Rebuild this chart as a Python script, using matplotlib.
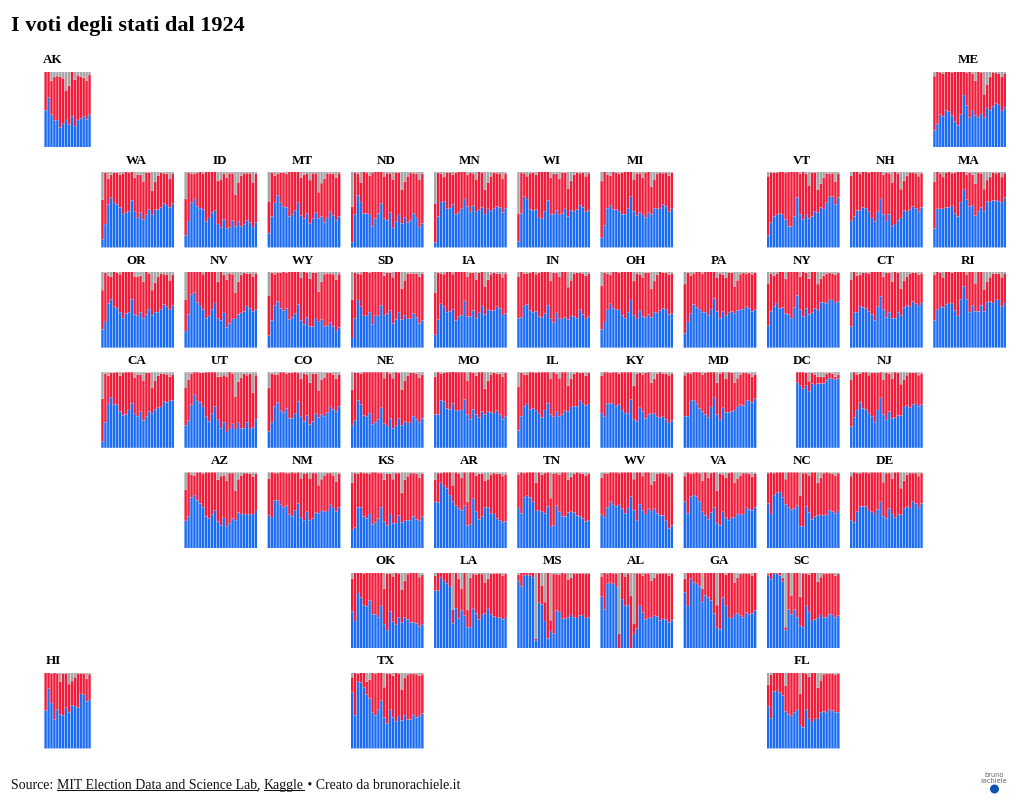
import matplotlib
matplotlib.use("Agg")
import matplotlib.pyplot as plt
from matplotlib.lines import Line2D
from matplotlib.patches import Circle

YEARS = [1924, 1928, 1932, 1936, 1940, 1944, 1948, 1952, 1956, 1960, 1964, 1968, 1972,
         1976, 1980, 1984, 1988, 1992, 1996, 2000, 2004, 2008, 2012, 2016, 2020]

# Each state's series ends in 2020; shorter series begin later.
dem = {
    "AL": [68,51,85,87,85,81,0,65,56,57,0,19,26,56,47,38,40,41,43,42,37,39,38,34,37],
    "AK": [49,66,43,35,36,26,31,36,30,41,28,36,38,41,37,43],
    "AZ": [36,42,67,70,63,59,54,42,39,44,50,35,30,40,28,33,39,37,47,45,44,45,44,45,49],
    "AR": [61,60,86,82,79,70,62,56,52,50,56,30,31,65,48,38,42,54,54,46,45,39,37,34,35],
    "CA": [8,34,58,67,57,57,48,43,44,50,59,45,42,48,36,41,48,46,51,53,54,61,60,62,63],
    "CO": [22,34,55,60,49,47,52,39,39,45,61,41,35,43,31,35,45,40,44,42,47,54,51,48,55],
    "CT": [28,46,47,55,53,52,48,44,36,54,68,50,40,47,39,39,47,42,53,56,54,61,58,55,59],
    "DE": [37,34,48,55,55,55,49,48,45,51,61,42,39,52,45,40,44,44,52,55,53,62,59,53,59],
    "DC": [86,82,78,82,75,85,83,85,85,85,89,92,91,90,92],
    "FL": [56,40,75,76,74,70,49,45,43,48,51,31,28,52,39,35,39,39,48,49,47,51,50,48,48],
    "GA": [74,56,92,87,85,82,61,70,67,63,46,27,25,67,56,40,40,44,46,43,41,47,45,46,50],
    "HI": [50,79,60,38,51,45,44,54,48,57,56,54,72,71,62,64],
    "ID": [16,35,59,64,54,52,50,34,39,46,49,31,26,37,25,26,36,28,34,28,30,36,33,27,33],
    "IL": [23,42,55,58,51,52,50,45,40,50,59,44,41,48,42,44,49,48,54,55,55,62,58,56,58],
    "IN": [39,40,55,57,49,47,48,41,40,45,56,38,33,46,38,38,40,37,42,41,39,50,44,38,41],
    "IA": [17,37,58,54,47,48,50,36,41,43,62,41,41,49,39,46,55,44,50,49,49,54,52,42,45],
    "KS": [24,27,54,54,42,39,45,31,34,39,54,35,30,45,33,33,43,34,36,37,37,42,38,36,42],
    "KY": [46,41,59,59,58,55,57,50,46,46,64,38,35,53,48,39,44,45,46,41,40,41,38,33,36],
    "LA": [76,76,93,89,86,81,33,53,39,50,43,28,28,52,46,38,44,46,52,45,42,40,41,38,40],
    "ME": [22,31,43,41,49,47,42,34,29,43,69,55,39,48,42,39,44,39,52,49,54,58,56,48,53],
    "MD": [42,42,62,63,59,52,48,44,40,54,66,44,37,53,47,47,48,50,54,57,56,62,62,60,65],
    "MA": [25,51,51,51,53,53,55,45,41,60,76,63,54,56,42,48,53,48,61,60,62,62,61,60,66],
    "MI": [13,29,52,56,50,50,48,44,44,51,67,48,42,46,43,40,46,44,52,51,51,57,54,47,51],
    "MN": [7,41,60,61,51,52,57,44,46,51,64,54,47,55,47,50,53,44,51,48,51,54,53,46,52],
    "MS": [89,82,96,97,96,94,10,60,58,36,13,23,20,50,48,39,39,41,44,41,40,43,44,40,41],
    "MO": [44,44,63,61,52,51,59,49,50,50,64,44,38,51,44,40,48,44,48,47,46,49,44,38,42],
    "MT": [19,41,59,69,59,54,53,41,43,49,59,42,38,45,32,38,46,38,41,33,39,47,42,36,41],
    "NE": [30,36,63,57,43,41,46,31,34,38,53,32,29,39,26,29,39,30,35,33,33,42,38,34,39],
    "NV": [22,44,70,73,60,55,50,39,42,51,59,39,36,46,27,32,38,38,44,46,48,55,52,48,50],
    "NH": [35,41,49,49,53,52,47,39,34,47,64,44,35,44,28,31,36,39,49,47,50,54,52,47,53],
    "NJ": [28,40,50,60,52,51,46,42,34,50,66,44,37,48,39,40,43,43,54,56,53,57,58,55,57],
    "NM": [43,41,63,63,57,54,56,44,42,50,59,40,37,48,37,39,47,46,49,48,49,57,53,48,54],
    "NY": [29,48,54,59,52,53,45,44,39,53,69,50,41,52,44,46,52,50,60,60,58,63,63,59,61],
    "NC": [59,45,70,73,74,67,58,54,51,52,56,29,29,55,47,38,42,43,44,43,44,50,48,46,49],
    "ND": [7,44,69,60,45,45,43,28,38,45,58,38,36,46,26,34,43,32,40,33,36,45,39,27,32],
    "OH": [24,34,50,58,52,50,50,43,39,47,63,43,38,49,41,40,44,40,47,46,49,52,51,44,45],
    "OK": [49,36,73,67,57,55,63,45,45,41,56,32,24,49,35,31,41,34,41,38,34,34,33,29,32],
    "OR": [24,34,58,64,54,52,47,39,45,47,64,44,42,47,39,44,51,43,47,47,51,57,54,50,56],
    "PA": [19,34,45,57,53,51,47,47,43,51,65,48,39,48,42,46,48,45,49,51,51,54,52,48,50],
    "RI": [36,50,55,53,57,59,58,49,42,64,81,64,47,56,48,48,56,48,60,61,59,63,63,54,59],
    "SC": [96,91,98,99,96,88,24,51,45,51,41,30,28,56,48,36,38,40,44,41,41,45,44,41,43],
    "SD": [13,39,63,54,42,42,47,31,42,42,56,42,45,49,32,37,47,37,43,38,38,45,40,32,36],
    "TN": [53,46,67,69,67,61,49,50,48,46,55,28,30,56,48,42,42,47,48,47,43,42,39,35,37],
    "TX": [74,44,88,87,81,71,66,47,44,51,63,41,33,51,41,36,43,37,44,38,38,44,41,43,46],
    "UT": [30,36,57,70,62,60,54,41,35,45,55,37,26,34,21,25,32,25,33,26,26,34,25,27,38],
    "VT": [16,33,41,43,45,43,37,28,28,41,66,44,37,43,38,41,48,46,53,51,59,67,67,57,66],
    "VA": [62,46,68,70,68,62,48,43,38,47,54,33,30,48,40,37,40,41,45,44,45,53,51,50,54],
    "WA": [11,31,57,66,59,57,53,44,46,48,62,47,39,46,37,43,50,43,50,50,53,58,56,53,58],
    "WV": [44,41,54,61,57,55,57,52,46,53,68,50,36,58,50,45,52,49,52,46,43,43,36,26,30],
    "WI": [8,45,67,64,50,49,50,39,38,48,62,44,44,49,43,45,51,41,49,48,50,56,53,47,49],
    "WY": [16,36,56,61,52,49,52,37,40,45,57,36,31,40,28,28,38,34,37,28,29,33,28,22,27],
}
rep = {
    "AL": [27,49,14,13,14,18,19,35,39,42,69,14,73,43,49,61,59,48,50,56,62,60,61,62,62],
    "AK": [51,34,45,58,58,67,60,39,51,59,61,59,55,51,51,53],
    "AZ": [41,58,30,26,37,41,44,58,61,56,50,55,65,56,61,66,60,39,44,51,55,54,54,49,49],
    "AR": [29,39,13,18,21,30,21,44,46,43,44,31,69,35,48,60,56,35,37,51,54,59,61,61,62],
    "CA": [57,64,37,32,42,43,47,56,56,50,41,48,55,49,53,58,51,33,38,42,44,37,37,32,34],
    "CO": [57,64,42,37,51,53,46,60,60,55,38,50,63,54,55,63,53,36,46,51,52,45,46,43,42],
    "CT": [62,54,48,41,46,47,50,56,64,46,32,44,59,52,48,61,52,36,35,38,44,38,41,41,39],
    "DE": [58,66,51,44,45,45,50,52,55,49,39,45,60,47,47,60,56,35,37,42,46,37,40,42,40],
    "DC": [14,18,22,17,13,14,14,9,9,9,9,7,7,4,5],
    "FL": [28,57,25,24,26,30,34,55,57,52,49,41,72,47,56,65,61,41,42,49,52,48,49,49,51],
    "GA": [18,44,8,13,15,18,18,30,33,37,54,30,75,33,41,60,60,43,47,55,58,52,53,50,50],
    "HI": [50,21,39,62,48,43,55,45,37,32,38,45,27,28,30,34],
    "ID": [48,64,38,33,45,48,47,66,61,54,51,57,64,60,67,72,62,42,52,67,68,62,65,59,64],
    "IL": [58,57,42,39,49,48,49,55,60,50,41,47,59,50,50,56,51,34,37,43,45,37,41,39,41],
    "IN": [55,60,43,41,50,53,49,58,60,55,44,50,66,53,56,62,60,43,47,57,60,49,54,57,57],
    "IA": [56,62,40,43,53,52,47,64,59,57,38,53,58,50,51,53,45,37,40,48,50,44,46,51,53],
    "KS": [62,72,44,46,57,60,53,69,66,60,45,55,68,53,58,66,56,39,54,58,62,57,60,57,56],
    "KY": [49,59,41,40,42,45,41,50,54,54,36,44,63,46,49,60,56,41,45,57,60,57,60,63,62],
    "LA": [20,24,7,11,14,19,18,47,53,29,57,23,65,46,51,61,54,41,40,53,57,59,58,58,58],
    "ME": [72,69,56,56,51,53,57,66,71,57,31,43,61,49,46,61,55,31,31,44,45,40,41,45,44],
    "MD": [54,57,36,37,41,48,49,55,60,46,34,42,61,47,44,53,51,36,38,40,43,37,36,34,32],
    "MA": [62,49,47,42,46,47,43,54,59,40,24,33,45,40,42,51,45,29,28,33,37,36,38,33,32],
    "MI": [75,71,44,39,50,49,49,55,56,49,33,42,56,52,49,59,54,36,38,46,48,41,45,48,48],
    "MN": [51,58,37,32,48,47,39,55,54,49,36,42,52,42,43,50,46,32,35,46,48,44,45,45,45],
    "MS": [8,18,4,3,4,6,3,40,25,25,87,14,78,48,49,62,60,50,49,58,59,56,55,58,58],
    "MO": [50,56,35,38,48,49,42,51,50,50,36,45,62,48,51,60,52,34,41,50,53,49,54,56,57],
    "MT": [42,58,36,28,40,45,44,59,57,51,41,50,58,53,57,60,52,35,44,58,59,50,55,56,57],
    "NE": [47,63,36,41,57,59,54,69,66,62,47,60,71,59,66,71,60,47,54,62,66,57,60,59,58],
    "NV": [41,56,30,27,40,45,47,61,58,49,41,48,64,50,63,66,59,35,43,50,51,43,46,46,48],
    "NH": [60,59,51,48,47,48,52,61,66,53,36,52,64,54,58,69,62,38,39,48,49,45,46,47,45],
    "NJ": [62,60,47,38,48,49,50,57,65,49,34,46,62,50,52,60,56,41,36,40,46,42,41,41,41],
    "NM": [49,59,36,36,43,46,43,55,58,49,41,52,61,51,55,60,52,37,42,48,50,42,43,40,44],
    "NY": [56,50,41,39,48,47,46,56,61,47,31,44,59,47,47,54,48,34,31,35,40,36,35,37,38],
    "NC": [40,55,29,27,26,33,33,46,49,48,44,40,70,44,49,62,58,43,49,56,56,49,50,50,50],
    "ND": [47,55,28,26,55,54,52,71,62,55,42,56,62,52,64,65,56,44,47,61,63,53,58,63,65],
    "OH": [58,65,48,38,48,50,49,57,61,53,37,45,60,48,52,59,55,38,41,50,51,47,48,52,53],
    "OK": [43,64,27,33,42,45,37,55,55,59,44,47,74,50,60,69,58,43,48,60,66,66,67,65,65],
    "OR": [52,65,37,30,46,47,50,61,55,53,36,50,52,48,48,56,47,33,39,47,47,40,42,39,40],
    "PA": [65,65,50,41,47,49,51,53,57,49,35,44,59,48,50,53,51,36,40,46,48,44,47,49,49],
    "RI": [60,50,44,40,43,41,41,51,58,36,19,32,53,44,37,52,44,29,27,32,39,35,35,39,39],
    "SC": [2,9,2,1,4,5,4,49,25,49,59,38,71,43,49,64,62,48,50,57,58,54,55,55,55],
    "SD": [50,60,35,43,58,58,52,69,58,58,44,53,54,50,61,63,53,41,46,60,60,53,58,62,62],
    "TN": [44,54,32,31,33,39,37,50,49,53,45,38,68,43,49,58,58,43,46,51,57,57,59,61,61],
    "TX": [20,56,11,13,19,17,25,53,55,49,37,40,66,48,55,64,56,41,49,59,61,55,57,53,52],
    "UT": [50,54,41,30,38,39,45,59,65,55,45,57,68,62,73,75,66,43,54,67,72,62,73,46,58],
    "VT": [78,66,58,56,55,57,62,72,72,59,34,53,63,54,44,58,51,30,31,41,39,30,31,30,31],
    "VA": [33,54,30,29,32,37,41,57,55,52,46,43,68,49,53,62,60,45,47,52,54,46,47,44,44],
    "WA": [52,68,34,30,40,42,43,54,54,51,38,45,57,50,50,56,49,32,37,45,46,40,41,38,39],
    "WV": [49,58,44,39,43,45,42,48,54,47,32,41,64,42,45,55,48,35,37,52,56,56,62,69,69],
    "WI": [37,54,31,30,48,50,46,61,62,52,38,48,53,48,48,54,48,37,39,48,49,42,46,47,49],
    "WY": [53,63,41,38,47,51,47,63,60,55,43,56,69,59,63,71,61,40,50,69,69,65,69,68,70],
}
grid_rows = [
    {"AK": 0, "ME": 11},
    {"WA": 1, "ID": 2, "MT": 3, "ND": 4, "MN": 5, "WI": 6, "MI": 7, "VT": 9, "NH": 10, "MA": 11},
    {"OR": 1, "NV": 2, "WY": 3, "SD": 4, "IA": 5, "IN": 6, "OH": 7, "PA": 8, "NY": 9, "CT": 10, "RI": 11},
    {"CA": 1, "UT": 2, "CO": 3, "NE": 4, "MO": 5, "IL": 6, "KY": 7, "MD": 8, "DC": 9, "NJ": 10},
    {"AZ": 2, "NM": 3, "KS": 4, "AR": 5, "TN": 6, "WV": 7, "VA": 8, "NC": 9, "DE": 10},
    {"OK": 4, "LA": 5, "MS": 6, "AL": 7, "GA": 8, "SC": 9},
    {"HI": 0, "TX": 4, "FL": 9},
]
BLUE, RED, GREY = "#1a6cf5", "#f01c3a", "#a6a6a6"
SERIF = "Liberation Serif"
W, H = 1020, 812

fig = plt.figure(figsize=(W / 100, H / 100), dpi=100, facecolor="white")

def ptext(x, y, s, **kw):
    return fig.text(x / W, 1 - y / H, s, family=SERIF, **kw)

COL0, COLP, ROW0, ROWP, PW, PH = 17.8, 83.2, 72.5, 100.2, 73.2, 75.8
for r, row in enumerate(grid_rows):
    for st, c in row.items():
        x0, y0 = COL0 + COLP * c, ROW0 + ROWP * r
        ax = fig.add_axes([x0 / W, 1 - (y0 + PH) / H, PW / W, PH / H])
        d, g = dem[st], rep[st]
        yrs = YEARS[-len(d):]
        top = [d_ + g_ for d_, g_ in zip(d, g)]
        oth = [max(100 - t, 0) for t in top]
        common = dict(width=3.5, linewidth=0.08, edgecolor="#ffffff", snap=False)
        ax.bar(yrs, d, color=BLUE, **common)
        ax.bar(yrs, g, bottom=d, color=RED, **common)
        ax.bar(yrs, oth, bottom=top, color=GREY, **common)
        ax.set_xlim(1922, 2022)
        ax.set_ylim(0, 100)
        ax.axis("off")
        ptext(x0 + PW / 2 - 1.3, y0 - 12.2, st, fontsize=9.4, fontweight="bold",
              ha="center", va="center", color="black")

ptext(11, 31, "I voti degli stati dal 1924", fontsize=16.05, fontweight="bold",
      ha="left", va="baseline", color="black")

# footer, with underlined links
renderer = fig.canvas.get_renderer()
x = 11.0
for seg, ul in [("Source: ", False), ("MIT Election Data and Science Lab", True), (", ", False),
                ("Kaggle", True), (" • Creato da brunorachiele.it", False)]:
    t = ptext(x, 789, seg, fontsize=10.0, ha="left", va="baseline", color="#111111")
    adv = renderer.get_text_width_height_descent(seg, t.get_fontproperties(), False)[0]
    if ul:
        fig.add_artist(Line2D([x / W, (x + adv) / W], [1 - 791.2 / H] * 2, color="#111111",
                              lw=0.75, transform=fig.transFigure))
    x += adv

# logo
fig.text(994 / W, 1 - 775 / H, "bruno", family="DejaVu Sans", fontsize=4.8, color="#666666", ha="center", va="center")
fig.text(994 / W, 1 - 781 / H, "rachiele", family="DejaVu Sans", fontsize=4.8, color="#666666", ha="center", va="center")
logo_ax = fig.add_axes([0, 0, 1, 1], facecolor="none")
logo_ax.set_xlim(0, W)
logo_ax.set_ylim(H, 0)
logo_ax.axis("off")
logo_ax.add_patch(Circle((994.5, 790), 4.5, color="#0b55b0", lw=0))

fig.savefig("out.png", dpi=100, facecolor="white")
